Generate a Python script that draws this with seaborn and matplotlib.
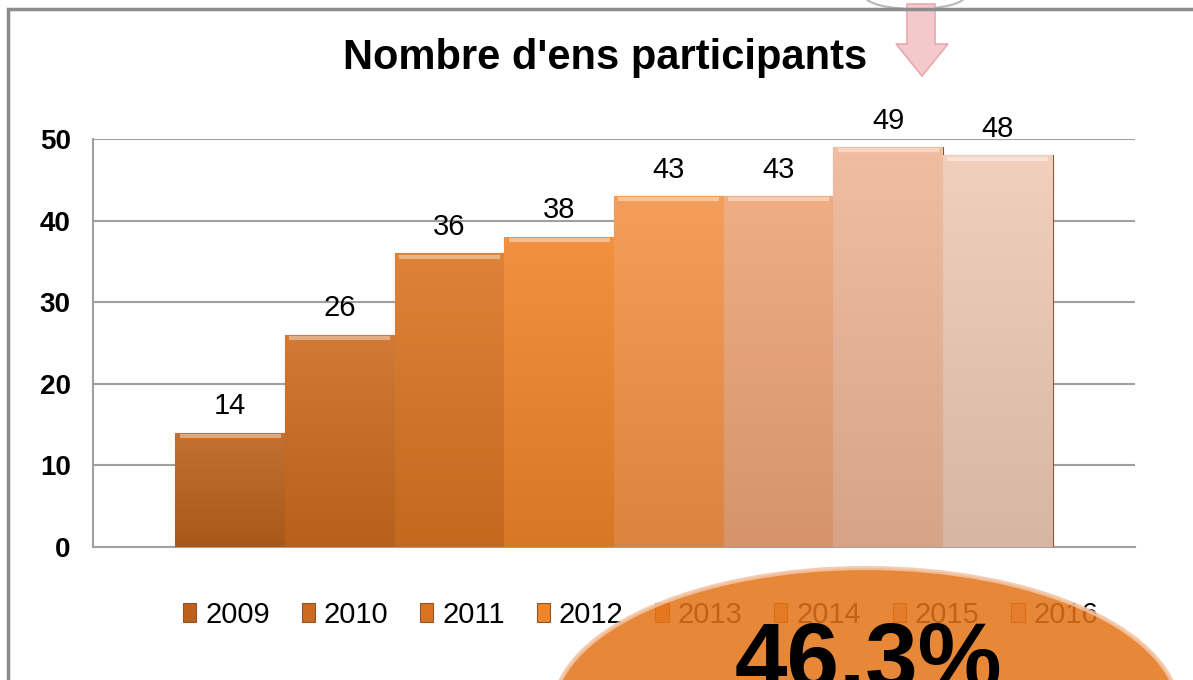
import numpy as np
import matplotlib
matplotlib.use("Agg")
import matplotlib.pyplot as plt
import matplotlib.colors as mcolors
from matplotlib.patches import Polygon, Ellipse
import seaborn as sns

# data
years = ['2009', '2010', '2011', '2012', '2013', '2014', '2015', '2016']
participants = [14, 26, 36, 38, 43, 43, 49, 48]
bar_colors = ['#bd611d', '#cc6a1f', '#da7422', '#f0852a', '#f29348',
              '#eea475', '#eeb697', '#f0cab6']
highlight = '46.3%'

sns.set_style('white')
plt.rcParams['font.family'] = ['Liberation Sans', 'DejaVu Sans']
plt.rcParams['text.color'] = 'black'
plt.rcParams['ytick.labelcolor'] = 'black'

fig = plt.figure(figsize=(11.93, 6.80), dpi=100)
ax = fig.add_axes([93 / 1193, 1 - 547 / 680, (1135 - 93) / 1193, (547 - 139) / 680])

sns.barplot(x=years, y=participants, hue=years, palette=bar_colors,
            width=1.0, ax=ax, edgecolor='#8a5530', linewidth=0.8,
            saturation=1, zorder=3, legend=True)

# vertical shading on each bar, like the original's bevelled look
for patch, col in zip(ax.patches, bar_colors):
    x0, y0 = patch.get_x(), patch.get_y()
    w, h = patch.get_width(), patch.get_height()
    rgb = np.array(mcolors.to_rgb(col))
    top = rgb + (1 - rgb) * 0.10
    bot = rgb * 0.90
    t = np.linspace(0, 1, 64)[:, None]
    grad = (top[None, :] * (1 - t) + bot[None, :] * t)[:, None, :]
    im = ax.imshow(grad, extent=(x0, x0 + w, y0, y0 + h), aspect='auto',
                   origin='upper', zorder=3.5, interpolation='bilinear')
    im.set_clip_path(patch)
    ax.plot([x0 + 0.04, x0 + w - 0.04], [y0 + h - 0.4] * 2,
            color='white', alpha=0.4, lw=3, zorder=3.6, solid_capstyle='butt')

for cont in ax.containers:
    ax.bar_label(cont, fontsize=21, padding=9, color='black')

ax.set_xlim(-1.25, 8.25)
ax.set_ylim(0, 50)
ax.set_yticks([0, 10, 20, 30, 40, 50])
ax.set_xticks([])
ax.set_xticks(np.arange(len(years) + 1) - 0.5, minor=True)
ax.tick_params(axis='x', which='minor', length=4, color='#a0a0a0', width=1.2)
ax.tick_params(axis='y', length=6, color='#a0a0a0', width=1.5,
               labelsize=20, pad=10, labelcolor='black')
for lab in ax.get_yticklabels():
    lab.set_fontweight('bold')
ax.yaxis.grid(True, color='#a0a0a0', lw=1.5, zorder=0)
ax.set_axisbelow(True)
for side in ['top', 'right']:
    ax.spines[side].set_visible(False)
for side in ['left', 'bottom']:
    ax.spines[side].set_color('#a0a0a0')
    ax.spines[side].set_linewidth(1.5)
ax.set_xlabel('')
ax.set_ylabel('')

sns.move_legend(ax, 'center', bbox_to_anchor=(0.537, 0.096),
                bbox_transform=fig.transFigure, ncol=8, frameon=False,
                title=None, fontsize=21, handlelength=0.45, handleheight=0.6,
                handletextpad=0.3, columnspacing=1.1, labelcolor='black')

fig.text(605 / 1193, 1 - 58 / 680, "Nombre d'ens participants",
         ha='center', va='center', fontsize=30, fontweight='bold',
         color='black')

# overlay: frame, arrow and the big highlight disc
ov = fig.add_axes([0, 0, 1, 1], zorder=5)
ov.set_xlim(0, 1193)
ov.set_ylim(680, 0)
ov.axis('off')
ov.patch.set_alpha(0)

ov.plot([8, 8, 1193], [680, 9, 9], color='#8c8c8c', lw=2.5,
        solid_joinstyle='miter')
ov.add_patch(Ellipse((915, -4), 100, 26, facecolor='white',
                     edgecolor='#b8b8b8', lw=1.5))
ov.add_patch(Polygon([(907, 4), (935, 4), (935, 44), (948, 44), (922, 76),
                      (896, 44), (907, 44)], closed=True,
                     facecolor='#f3c9cc', edgecolor='#e6aab0', lw=1.2))
ov.add_patch(Ellipse((866, 712), 626, 288, facecolor='#e47317', alpha=0.86,
                     edgecolor='#f3c4a4', lw=3))
ov.text(868, 620, highlight, ha='center', va='top', fontsize=68,
        fontweight='bold', color='black')

fig.savefig('out.png', dpi=100)
